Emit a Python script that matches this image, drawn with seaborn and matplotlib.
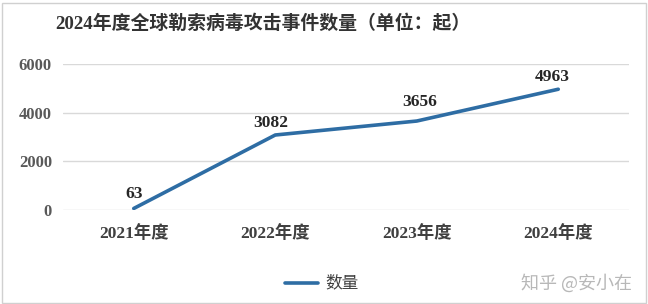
import matplotlib
matplotlib.use("Agg")
import matplotlib.pyplot as plt
import seaborn as sns
import pandas as pd
from matplotlib.patches import Rectangle
from matplotlib.lines import Line2D

years = ["2021年度", "2022年度", "2023年度", "2024年度"]
counts = [63, 3082, 3656, 4963]
yticks = [0, 2000, 4000, 6000]

sns.set_theme(style="white")
FONT = ["Liberation Serif", "Noto Sans CJK SC", "DejaVu Sans"]
plt.rcParams["font.family"] = FONT

df = pd.DataFrame({"年度": years, "数量": counts})

fig = plt.figure(figsize=(6.48, 3.04), dpi=100)
ax = fig.add_axes([63/648, 1 - 210/304, (629 - 63)/648, (210 - 64)/304])
line_color = "#2E6DA4"
sns.lineplot(data=df, x="年度", y="数量", ax=ax, color=line_color, linewidth=2.6, sort=False)

ax.set_xlim(-0.5, 3.5)
ax.set_ylim(0, 6000)
ax.set_yticks(yticks)
ax.set_yticklabels([str(v) for v in yticks])
ax.set_xlabel("")
ax.set_ylabel("")
ax.grid(axis="y", color="#D9D9D9", linewidth=1)
ax.set_axisbelow(True)
for s in ax.spines.values():
    s.set_visible(False)
ax.tick_params(axis="y", length=0, pad=8, labelsize=12, labelcolor="#595959")
ax.tick_params(axis="x", length=0, pad=11, labelsize=12.5, labelcolor="#404040")
for lab in ax.get_yticklabels() + ax.get_xticklabels():
    lab.set_fontweight("bold")
    lab.set_family(FONT)

offsets = [(0, 5), (-3, 3), (2, 8), (-4, 3)]
for i, (x, v) in enumerate(zip(years, counts)):
    ax.annotate(str(v), (i, v), xytext=offsets[i], textcoords="offset points",
                ha="center", va="bottom", fontsize=12.5, fontweight="bold",
                color="#262626", family=FONT)

fig.text(263/648, 1 - 24/304, "2024年度全球勒索病毒攻击事件数量（单位：起）",
         ha="center", va="center", fontsize=13.6, fontweight="bold",
         color="#333333", family=FONT)

# legend
fig.add_artist(Line2D([285/648, 318/648], [1 - 283/304, 1 - 283/304],
                      color=line_color, linewidth=2.6, transform=fig.transFigure))
fig.text(325/648, 1 - 283/304, "数量", ha="left", va="center", fontsize=12,
         color="#404040", family=FONT)

# watermark
fig.text(632/648, 1 - 283/304, "知乎 @安小在", ha="right", va="center", fontsize=13,
         color="#B8B8B8", family=["Noto Sans CJK SC", "DejaVu Sans"])

# border
fig.add_artist(Rectangle((2/648, 1/304), 644/648, 300/304, transform=fig.transFigure,
                         fill=False, edgecolor="#D0D0D0", linewidth=1))

fig.savefig("out.png", dpi=100)
